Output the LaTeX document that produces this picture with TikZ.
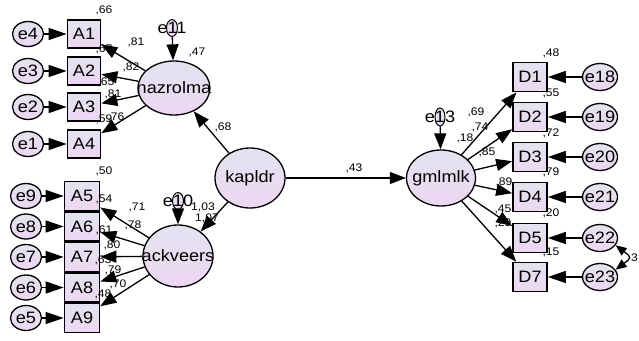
\documentclass[tikz,border=0pt]{standalone}
\usepackage{fontspec}
\setmainfont[FakeStretch=1.1]{Liberation Sans}
\usetikzlibrary{arrows.meta,shapes.geometric}
\definecolor{fillA}{RGB}{226,228,240}
\definecolor{fillB}{RGB}{238,214,242}
\newcommand{\zb}[1]{\makebox[0pt]{#1}}
\begin{document}
\begin{tikzpicture}[x=1pt,y=-1pt,
  every node/.style={font=\fontsize{16.5}{18}\selectfont, inner sep=0pt},
  shadefill/.style={top color=fillA,bottom color=fillB},
  obs/.style={draw,line width=1.7pt,rectangle,shadefill,minimum width=33pt,minimum height=28pt},
  obsb/.style={obs,minimum width=35pt,minimum height=29pt},
  lat/.style={draw,line width=1.3pt,ellipse,shadefill},
  err/.style={draw,line width=1.3pt,ellipse,shadefill,minimum width=31pt,minimum height=25pt},
  serr/.style={draw,line width=1pt,ellipse,shadefill,minimum width=11pt,minimum height=17pt},
  val/.style={font=\fontsize{11}{12}\selectfont},
  lpath/.style={line width=1.3pt,-{Triangle[length=16pt,width=12pt]}},
  epath/.style={line width=1.3pt,-{Triangle[length=18pt,width=12pt]}},
  cov/.style={line width=1.3pt,{Triangle[length=11pt,width=9pt]}-{Triangle[length=11pt,width=9pt]}},
]
\useasboundingbox (0,0) rectangle (639,340);
\fill[white] (0,0) rectangle (639,340);

% top-left group
\node[obs] (A1) at (84,34) {A1};
\node[obs] (A2) at (84,71) {A2};
\node[obs] (A3) at (84,107) {A3};
\node[obs] (A4) at (84,144) {A4};
\node[err] (e4) at (28,34) {\zb{e4}};
\node[err] (e3) at (28,71) {\zb{e3}};
\node[err] (e2) at (28,107) {\zb{e2}};
\node[err] (e1) at (28,144) {\zb{e1}};
\node[lat,minimum width=72pt,minimum height=54pt] (naz) at (174,88) {\zb{nazrolma}};
\node[serr,label={[font=\fontsize{16.5}{18}\selectfont]center:e11}] (e11) at (172,28) {};

% bottom-left group
\node[obsb] (A5) at (82,196) {A5};
\node[obsb] (A6) at (82,226.5) {A6};
\node[obsb] (A7) at (82,257) {A7};
\node[obsb] (A8) at (82,287.5) {A8};
\node[obsb] (A9) at (82,318) {A9};
\node[err] (e9) at (26,196) {\zb{e9}};
\node[err] (e8) at (26,226.5) {\zb{e8}};
\node[err] (e7) at (26,257) {\zb{e7}};
\node[err] (e6) at (26,287.5) {\zb{e6}};
\node[err] (e5) at (26,318) {\zb{e5}};
\node[lat,minimum width=70pt,minimum height=62pt] (ack) at (178,256) {\zb{ackveers}};
\node[serr,label={[font=\fontsize{16.5}{18}\selectfont]center:e10}] (e10) at (178,201) {};

% centre
\node[lat,minimum width=70pt,minimum height=60pt] (kap) at (250,178) {\zb{kapldr}};

% right group
\node[lat,minimum width=69pt,minimum height=56pt] (gml) at (441,178) {\zb{gmlmlk}};
\node[serr,minimum width=10pt,minimum height=18pt,label={[font=\fontsize{16.5}{18}\selectfont]center:e13}] (e13) at (440,117) {};
\node[obs,minimum width=34pt,minimum height=29pt] (D1) at (530,77) {D1};
\node[obs,minimum width=34pt,minimum height=29pt] (D2) at (530,117) {D2};
\node[obs,minimum width=34pt,minimum height=29pt] (D3) at (530,157) {D3};
\node[obs,minimum width=34pt,minimum height=29pt] (D4) at (530,197) {D4};
\node[obs,minimum width=34pt,minimum height=29pt] (D5) at (530,238) {D5};
\node[obs,minimum width=34pt,minimum height=29pt] (D7) at (530,277) {D7};
\node[err,minimum width=35pt,minimum height=27pt] (e18) at (600,77) {\zb{e18}};
\node[err,minimum width=35pt,minimum height=27pt] (e19) at (600,117) {\zb{e19}};
\node[err,minimum width=35pt,minimum height=27pt] (e20) at (600,157) {\zb{e20}};
\node[err,minimum width=35pt,minimum height=27pt] (e21) at (600,197) {\zb{e21}};
\node[err,minimum width=35pt,minimum height=27pt] (e22) at (600,238) {\zb{e22}};
\node[err,minimum width=35pt,minimum height=27pt] (e23) at (600,277) {\zb{e23}};

% error paths
\foreach \e/\a in {e4/A1,e3/A2,e2/A3,e1/A4,e9/A5,e8/A6,e7/A7,e6/A8,e5/A9}
  \draw[epath] (\e) -- (\a);
\foreach \e/\d in {e18/D1,e19/D2,e20/D3,e21/D4,e22/D5,e23/D7}
  \draw[epath] (\e) -- (\d);
\draw[lpath] (e11) -- (naz);
\draw[lpath] (e10) -- (ack);
\draw[lpath] (e13) -- (gml);

% loadings
\foreach \a in {A1,A2,A3,A4} \draw[lpath] (naz) -- (\a);
\foreach \a in {A5,A6,A7,A8,A9} \draw[lpath] (ack) -- (\a);
\foreach \d in {D1,D2,D3,D4,D5,D7} \draw[lpath] (gml) -- (\d);
\draw[lpath] (kap) -- (naz);
\draw[lpath] (kap) -- (ack);
\draw[lpath] (kap) -- (gml);
\draw[cov] (e22.-25) .. controls +(16,12) and +(16,-12) .. (e23.25);

% values
\node[val] (v1) at (104,10) {,66};
\node[val] (v2) at (136,42) {,81};
\node[val] (v3) at (104,49) {,67};
\node[val] (v4) at (131,67) {,82};
\node[val] (v5) at (106,82) {,65};
\node[val] (v6) at (113,94) {,81};
\node[val] (v7) at (104,119) {,59};
\node[val] (v8) at (116,117) {,76};
\node[val] (v9) at (197,52) {,47};
\node[val] (v10) at (223,127) {,68};
\node[val] (v11) at (104,171) {,50};
\node[val] (v12) at (104,199) {,54};
\node[val] (v13) at (137,207) {,71};
\node[val] (v14) at (133,225) {,78};
\node[val] (v15) at (104,230) {,61};
\node[val] (v16) at (112,245) {,80};
\node[val] (v17) at (103,260) {,63};
\node[val] (v18) at (113,270) {,79};
\node[val] (v19) at (118,284) {,70};
\node[val] (v20) at (103,294) {,48};
\node[val] (v21) at (203,207) {1,03};
\node[val] (v22) at (207,218) {1,07};
\node[val] (v23) at (354,168) {,43};
\node[val] (v24) at (465,138) {,18};
\node[val] (v25) at (476,112) {,69};
\node[val] (v26) at (480,127) {,74};
\node[val] (v27) at (487,152) {,85};
\node[val] (v28) at (551,53) {,48};
\node[val] (v29) at (551,93) {,55};
\node[val] (v30) at (551,133) {,72};
\node[val] (v31) at (551,172) {,79};
\node[val] (v32) at (504,182) {,89};
\node[val] (v33) at (503,209) {,45};
\node[val] (v34) at (551,213) {,20};
\node[val] (v35) at (503,223) {,29};
\node[val] (v36) at (551,252) {,15};
\node[val,anchor=west] (v37) at (631,258) {3};
\end{tikzpicture}
\end{document}
